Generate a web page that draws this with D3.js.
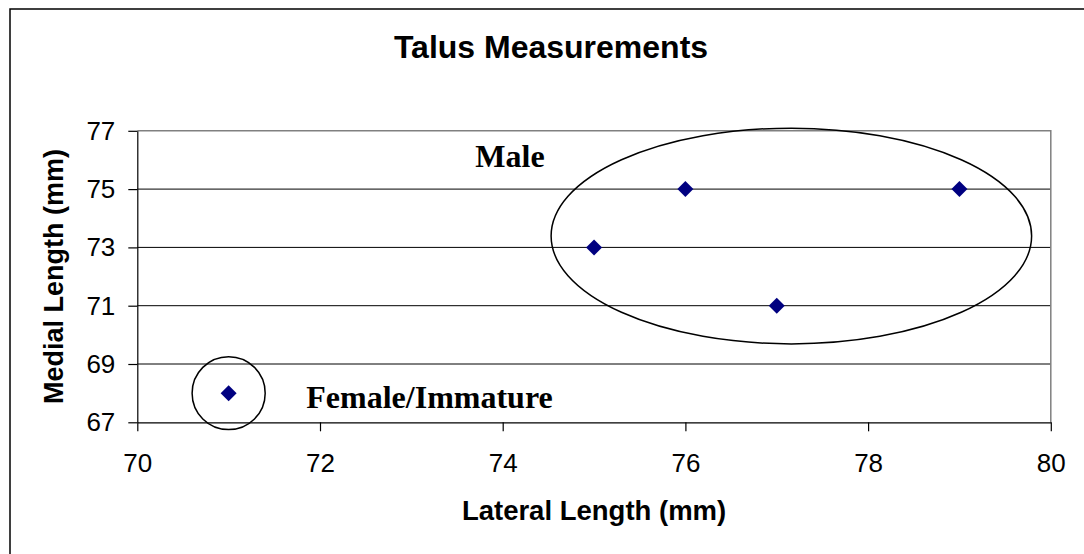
<!DOCTYPE html>
<html>
<head>
<meta charset="utf-8">
<script src="https://cdn.jsdelivr.net/npm/d3@7"></script>
<style>
  body { margin: 0; background: #fff; }
</style>
</head>
<body>
<div id="chart"></div>
<script>
// Talus measurements (lateral vs medial length, mm)
const lateral = [71, 75, 76, 77, 79];
const medial = [68, 73, 75, 71, 75];
const xTicks = [70, 72, 74, 76, 78, 80];
const yTicks = [67, 69, 71, 73, 75, 77];

// group outlines drawn in data units: [cx, cy, rx, ry]
const groupNames = ["Male", "Female/Immature"];
const groupShapes = [[77.16, 73.39, 2.63, 3.70], [71.0, 68.0, 0.40, 1.25]];
const groupLabelPos = [[73.70, 75.76], [71.85, 67.49]];

const W = 1084, H = 554;
const margin = { left: 137.3, right: 1050.8, top: 130.8, bottom: 422.3 };

const svg = d3.select("#chart")
    .append("svg")
    .attr("width", W)
    .attr("height", H);

// outer chart border (runs off the right and bottom edge)
svg.append("rect")
    .attr("x", 10).attr("y", 9)
    .attr("width", 1200).attr("height", 700)
    .attr("fill", "none")
    .attr("stroke", "#000")
    .attr("stroke-width", 1.5);

const x = d3.scaleLinear().domain([70, 80]).range([margin.left, margin.right]);
const y = d3.scaleLinear().domain([67, 77]).range([margin.bottom, margin.top]);

// gridlines
svg.selectAll(".grid")
    .data(yTicks.filter(d => d > 67 && d < 77))
    .enter()
    .append("line")
    .attr("class", "grid")
    .attr("x1", x(70)).attr("x2", x(80))
    .attr("y1", d => y(d)).attr("y2", d => y(d))
    .attr("stroke", "#000")
    .attr("stroke-width", 1);

// plot area border (top and right in grey)
svg.append("path")
    .attr("d", `M${x(70)},${y(77)}H${x(80)}V${y(67)}`)
    .attr("fill", "none")
    .attr("stroke", "#808080")
    .attr("stroke-width", 1.5);

// axes
const xAxis = svg.append("g")
    .attr("transform", "translate(0," + y(67) + ")")
    .call(d3.axisBottom(x).tickValues(xTicks).tickSize(9).tickSizeOuter(0).tickPadding(22).tickFormat(d3.format("d")));

const yAxis = svg.append("g")
    .attr("transform", "translate(" + x(70) + ",0)")
    .call(d3.axisLeft(y).tickValues(yTicks).tickSize(9).tickSizeOuter(0).tickPadding(13).tickFormat(d3.format("d")));

[xAxis, yAxis].forEach(g => {
    g.select(".domain").attr("stroke", "#000").attr("stroke-width", 1.2);
    g.selectAll(".tick line").attr("stroke", "#000").attr("stroke-width", 1.2);
    g.selectAll(".tick text")
        .attr("fill", "#000")
        .style("font-family", "Arial, 'Liberation Sans', sans-serif")
        .style("font-size", "26px");
});

// group outlines
svg.selectAll(".group")
    .data(groupShapes)
    .enter()
    .append("ellipse")
    .attr("class", "group")
    .attr("cx", d => x(d[0]))
    .attr("cy", d => y(d[1]))
    .attr("rx", d => x(d[0] + d[2]) - x(d[0]))
    .attr("ry", d => y(d[1]) - y(d[1] + d[3]))
    .attr("fill", "none")
    .attr("stroke", "#000")
    .attr("stroke-width", 1.5);

// group labels
svg.selectAll(".group-label")
    .data(groupNames)
    .enter()
    .append("text")
    .attr("class", "group-label")
    .attr("x", (d, i) => x(groupLabelPos[i][0]))
    .attr("y", (d, i) => y(groupLabelPos[i][1]))
    .style("font-family", "'Times New Roman', 'Liberation Serif', serif")
    .style("font-weight", "bold")
    .style("font-size", "32px")
    .text(d => d);

// diamond markers
const s = 8;
svg.selectAll(".pt")
    .data(lateral.map((v, i) => [v, medial[i]]))
    .enter()
    .append("path")
    .attr("class", "pt")
    .attr("transform", d => "translate(" + x(d[0]) + "," + y(d[1]) + ")")
    .attr("d", `M0,${-s}L${s},0L0,${s}L${-s},0Z`)
    .attr("fill", "#000080");

// title
svg.append("text")
    .attr("x", 551)
    .attr("y", 58)
    .attr("text-anchor", "middle")
    .style("font-family", "Arial, 'Liberation Sans', sans-serif")
    .style("font-weight", "bold")
    .style("font-size", "32px")
    .text("Talus Measurements");

// x-axis label
svg.append("text")
    .attr("x", (margin.left + margin.right) / 2)
    .attr("y", 520)
    .attr("text-anchor", "middle")
    .style("font-family", "Arial, 'Liberation Sans', sans-serif")
    .style("font-weight", "bold")
    .style("font-size", "27.5px")
    .text("Lateral Length (mm)");

// y-axis label
svg.append("text")
    .attr("transform", "translate(63," + ((margin.top + margin.bottom) / 2) + ") rotate(-90)")
    .attr("text-anchor", "middle")
    .style("font-family", "Arial, 'Liberation Sans', sans-serif")
    .style("font-weight", "bold")
    .style("font-size", "27px")
    .text("Medial Length (mm)");
</script>
</body>
</html>
